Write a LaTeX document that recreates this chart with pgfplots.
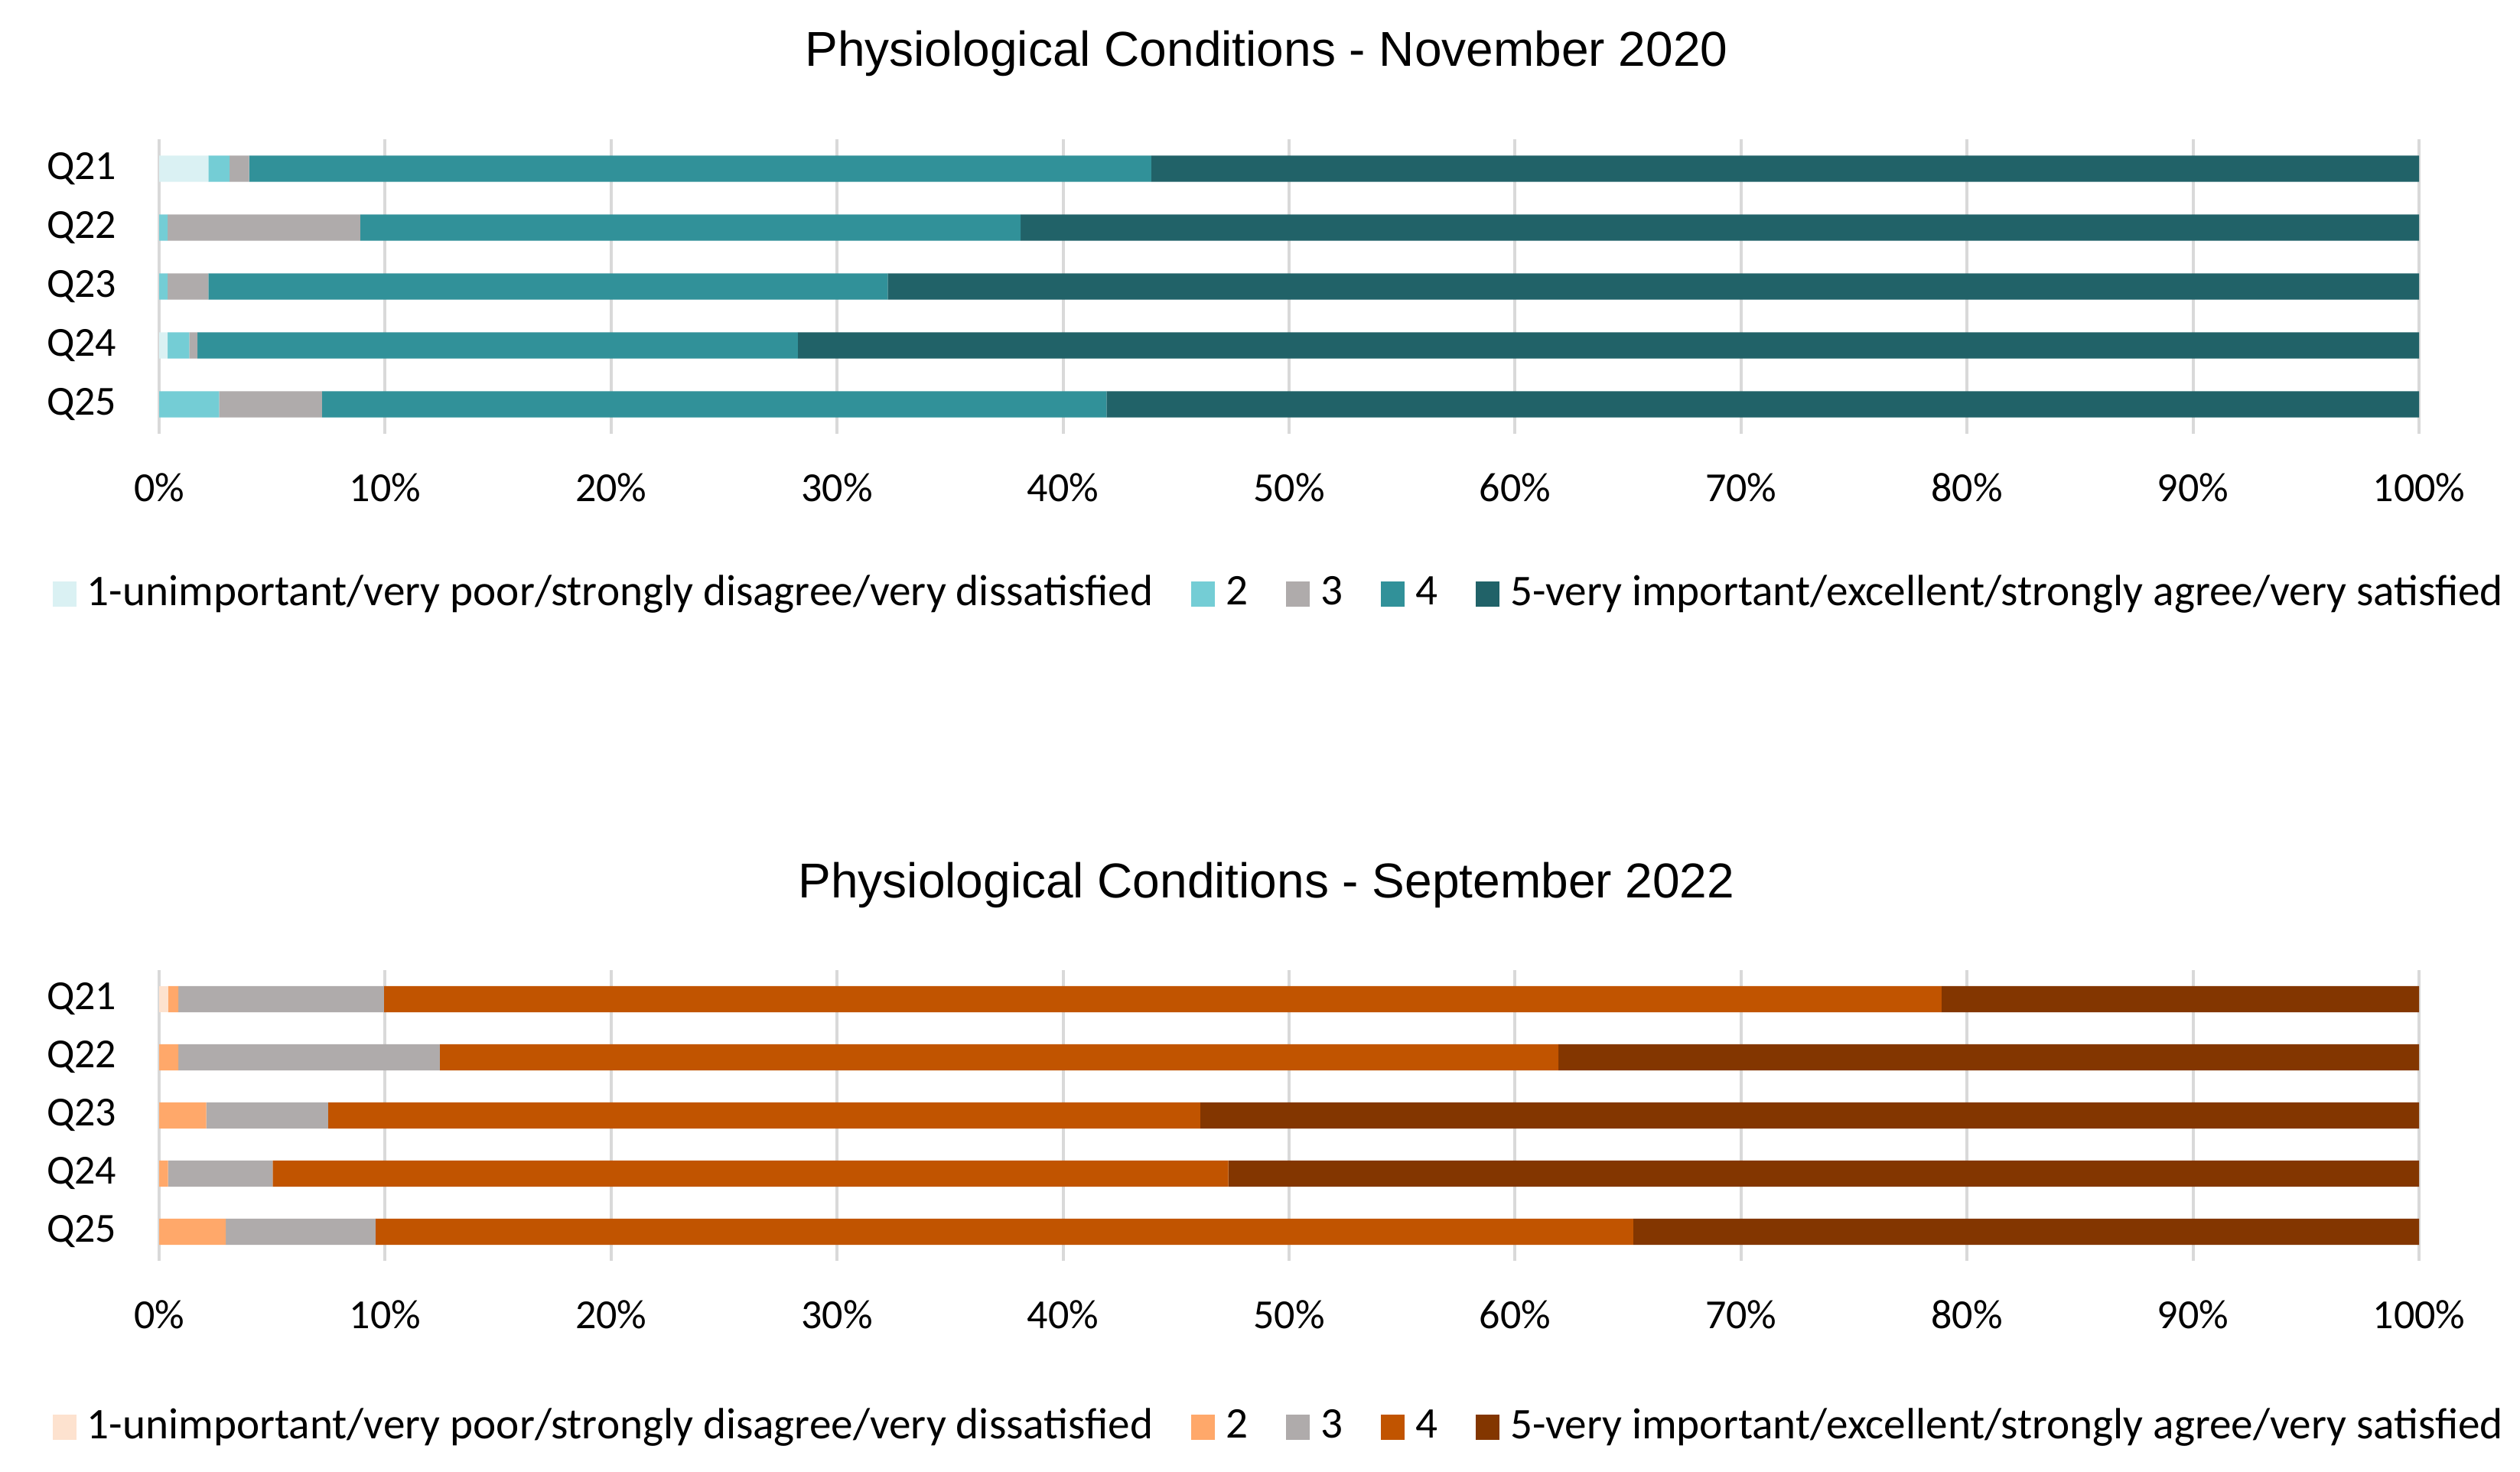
\documentclass[border=0pt]{standalone}
\usepackage{pgfplots}
\pgfplotsset{compat=1.18}
\usepackage{pgfplotstable}
\usepackage{fontspec}
\setmainfont{Carlito}
\newfontfamily\titlefont{Liberation Sans}

\definecolor{t1}{RGB}{218,241,243}
\definecolor{t2}{RGB}{116,205,213}
\definecolor{g3}{RGB}{175,171,171}
\definecolor{t4}{RGB}{49,145,153}
\definecolor{t5}{RGB}{33,98,104}
\definecolor{o1}{RGB}{253,226,207}
\definecolor{o2}{RGB}{255,168,106}
\definecolor{o4}{RGB}{193,84,0}
\definecolor{o5}{RGB}{131,54,0}

\pgfplotstableread{
y a b c d e
1 2.18 0.94 0.86 39.92 56.10
2 0.00 0.38 8.52 29.22 61.88
3 0.00 0.38 1.80 30.06 67.76
4 0.38 0.95 0.37 26.56 71.74
5 0.00 2.65 4.56 34.71 58.08
}\topdata

\pgfplotstableread{
y a b c d e
1 0.39 0.46 9.10 68.92 21.13
2 0.00 0.85 11.57 49.50 38.08
3 0.00 2.09 5.39 38.59 53.93
4 0.00 0.39 4.63 42.29 52.69
5 0.00 2.95 6.63 55.65 34.77
}\botdata

\pgfplotsset{
  mystyle/.style={
    xbar stacked,
    scale only axis,
    width=738.5pt,
    xmin=0, xmax=100,
    ymin=0.5, ymax=5.5,
    y dir=reverse,
    bar width=8.6pt,
    xtick={0,10,...,100},
    xticklabel={\pgfmathprintnumber{\tick}\%},
    /pgf/number format/assume math mode=true,
    ytick={1,2,3,4,5},
    yticklabels={Q21,Q22,Q23,Q24,Q25},
    xmajorgrids,
    major grid style={draw=gray!30, line width=1pt},
    axis line style={draw=none},
    major tick length=0pt,
    tick style={draw=none},
    tick label style={font=\fontsize{13.5}{16}\selectfont},
    xticklabel style={anchor=base, yshift=-22pt},
    yticklabel style={anchor=east, inner sep=0pt, xshift=-13.75pt},
    title style={font=\titlefont\fontsize{16}{19}\selectfont, at={(0.49,1)}, anchor=center},
    legend columns=5,
    legend cell align=left,
    legend style={at={(-0.0474,0)}, anchor=west, draw=none, fill=none, inner sep=0pt,
      font=\fontsize{14.3}{17}\selectfont,
      /tikz/every odd column/.append style={column sep=1.5pt},
      /tikz/every even column/.append style={column sep=10.5pt}},
    legend image code/.code={\fill[##1] (0pt,-4.4pt) rectangle (7.75pt,3.85pt);},
  }
}

\begin{document}
\begin{tikzpicture}
\useasboundingbox (0,0) rectangle (823.5pt,-481pt);

\begin{axis}[mystyle, at={(52pt,-45.5pt)}, anchor=north west, height=96.25pt,
  title style={yshift=22pt},
  legend style={yshift=-52pt},
  title={Physiological Conditions - November 2020}]
\addplot[fill=t1, draw=none] table[x=a, y=y]{\topdata};
\addplot[fill=t2, draw=none] table[x=b, y=y]{\topdata};
\addplot[fill=g3, draw=none] table[x=c, y=y]{\topdata};
\addplot[fill=t4, draw=none] table[x=d, y=y]{\topdata};
\addplot[fill=t5, draw=none] table[x=e, y=y]{\topdata};
\legend{1-unimportant/very poor/strongly disagree/very dissatisfied, 2, 3, 4, 5-very important/excellent/strongly agree/very satisfied}
\end{axis}

\begin{axis}[mystyle, at={(52pt,-317pt)}, anchor=north west, height=95pt,
  title style={yshift=21.7pt},
  legend style={yshift=-54pt},
  title={Physiological Conditions - September 2022}]
\addplot[fill=o1, draw=none] table[x=a, y=y]{\botdata};
\addplot[fill=o2, draw=none] table[x=b, y=y]{\botdata};
\addplot[fill=g3, draw=none] table[x=c, y=y]{\botdata};
\addplot[fill=o4, draw=none] table[x=d, y=y]{\botdata};
\addplot[fill=o5, draw=none] table[x=e, y=y]{\botdata};
\legend{1-unimportant/very poor/strongly disagree/very dissatisfied, 2, 3, 4, 5-very important/excellent/strongly agree/very satisfied}
\end{axis}
\end{tikzpicture}
\end{document}
